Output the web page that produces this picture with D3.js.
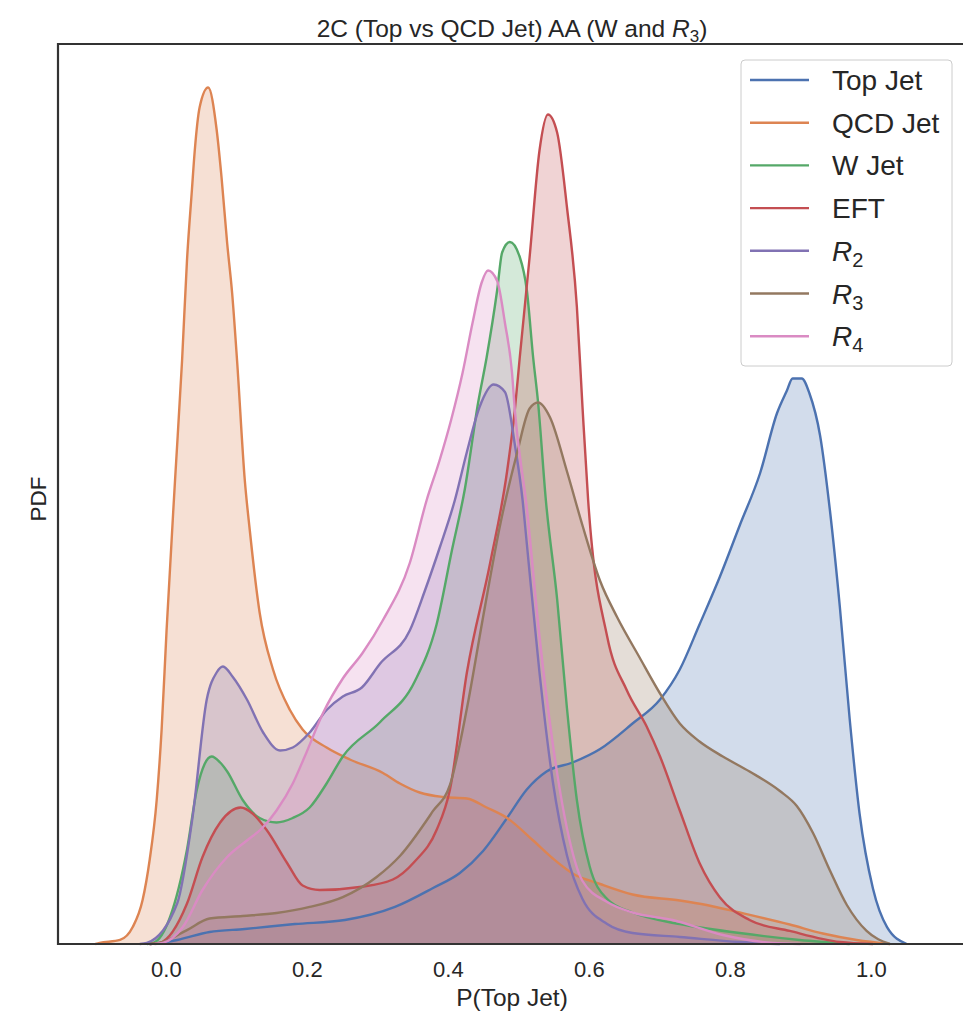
<!DOCTYPE html>
<html lang="en">
<head>
    <meta charset="UTF-8"/>
    <title>2C (Top vs QCD Jet) AA</title>
    <script src="https://d3js.org/d3.v7.min.js"></script>
    <style type="text/css">
        body { margin: 0; background: #fff; }
        text { font-family: "Liberation Sans", Arial, sans-serif; fill: #262626; }
        .spine { stroke: #333; stroke-width: 2.2px; fill: none; }
    </style>
</head>
<body>
<svg width="963" height="1017"></svg>

<script type="text/javascript">
    // series names, colours (seaborn "deep")
    var names = ["Top Jet", "QCD Jet", "W Jet", "EFT", "R2", "R3", "R4"];
    var colors = ["#4c72b0", "#dd8452", "#55a868", "#c44e52", "#8172b3", "#937860", "#da8bc3"];
    var xTicks = [0.0, 0.2, 0.4, 0.6, 0.8, 1.0];

    // KDE curves: x = P(Top Jet), y = density
    var topX = [-0.023, -0.009, 0.016, 0.062, 0.112, 0.183, 0.254, 0.325, 0.379, 0.417, 0.450, 0.484, 0.512, 0.540, 0.577, 0.616, 0.662, 0.701, 0.729, 0.757, 0.786, 0.814, 0.843, 0.867, 0.881, 0.889, 0.902, 0.913, 0.928, 0.942, 0.956, 0.970, 0.984, 1.003, 1.023, 1.051];
    var topY = [0, 0.007, 0.027, 0.08, 0.10, 0.133, 0.16, 0.247, 0.373, 0.473, 0.62, 0.84, 1.03, 1.15, 1.21, 1.30, 1.47, 1.63, 1.83, 2.13, 2.45, 2.79, 3.14, 3.54, 3.69, 3.77, 3.77, 3.67, 3.39, 2.89, 2.25, 1.50, 0.87, 0.37, 0.113, 0];

    var qcdX = [-0.100, -0.094, -0.065, -0.047, -0.033, -0.023, -0.013, -0.006, 0.001, 0.013, 0.023, 0.030, 0.037, 0.041, 0.048, 0.060, 0.072, 0.079, 0.087, 0.094, 0.101, 0.112, 0.119, 0.133, 0.152, 0.176, 0.194, 0.228, 0.261, 0.308, 0.332, 0.360, 0.393, 0.427, 0.455, 0.484, 0.521, 0.549, 0.577, 0.616, 0.662, 0.729, 0.767, 0.814, 0.885, 0.932, 0.980, 1.027];
    var qcdY = [0, 0.007, 0.027, 0.113, 0.293, 0.56, 0.96, 1.43, 2.09, 3.09, 3.89, 4.56, 5.03, 5.29, 5.58, 5.71, 5.43, 5.11, 4.67, 4.34, 3.89, 3.09, 2.76, 2.21, 1.83, 1.56, 1.43, 1.31, 1.23, 1.14, 1.07, 1.01, 0.98, 0.97, 0.91, 0.84, 0.69, 0.57, 0.47, 0.40, 0.33, 0.29, 0.26, 0.21, 0.13, 0.07, 0.027, 0];

    var wX = [-0.027, -0.018, 0.006, 0.030, 0.044, 0.055, 0.065, 0.077, 0.087, 0.109, 0.133, 0.157, 0.180, 0.204, 0.228, 0.251, 0.304, 0.353, 0.384, 0.406, 0.424, 0.443, 0.455, 0.470, 0.477, 0.488, 0.502, 0.512, 0.521, 0.528, 0.539, 0.555, 0.569, 0.583, 0.601, 0.626, 0.662, 0.729, 0.814, 0.899, 0.970];
    var wY = [0, 0.007, 0.18, 0.63, 1.03, 1.20, 1.25, 1.21, 1.15, 0.96, 0.84, 0.81, 0.84, 0.91, 1.07, 1.25, 1.48, 1.75, 2.13, 2.63, 3.03, 3.61, 3.91, 4.36, 4.61, 4.68, 4.58, 4.36, 3.91, 3.61, 2.96, 2.30, 1.57, 0.96, 0.52, 0.30, 0.21, 0.133, 0.073, 0.027, 0];

    var eftX = [-0.023, -0.009, 0.030, 0.052, 0.077, 0.106, 0.123, 0.143, 0.172, 0.194, 0.218, 0.275, 0.322, 0.353, 0.384, 0.403, 0.427, 0.460, 0.484, 0.495, 0.502, 0.516, 0.530, 0.542, 0.555, 0.569, 0.583, 0.591, 0.599, 0.626, 0.654, 0.682, 0.701, 0.729, 0.757, 0.786, 0.828, 0.885, 0.956, 1.003];
    var eftY = [0, 0.007, 0.27, 0.58, 0.81, 0.91, 0.87, 0.76, 0.54, 0.39, 0.36, 0.38, 0.43, 0.55, 0.76, 1.03, 1.81, 2.54, 3.15, 3.56, 3.91, 4.58, 5.29, 5.53, 5.41, 4.91, 4.25, 3.58, 2.96, 2.05, 1.69, 1.45, 1.25, 0.89, 0.54, 0.31, 0.16, 0.087, 0.013, 0];

    var r2X = [-0.037, -0.027, 0.016, 0.038, 0.058, 0.072, 0.081, 0.095, 0.115, 0.138, 0.162, 0.180, 0.204, 0.228, 0.251, 0.278, 0.304, 0.346, 0.367, 0.389, 0.410, 0.427, 0.445, 0.465, 0.481, 0.495, 0.506, 0.512, 0.530, 0.549, 0.569, 0.591, 0.626, 0.662, 0.729, 0.814, 0.871];
    var r2Y = [0, 0.007, 0.27, 0.85, 1.63, 1.81, 1.85, 1.78, 1.63, 1.41, 1.29, 1.31, 1.41, 1.56, 1.65, 1.71, 1.87, 2.09, 2.35, 2.65, 2.96, 3.28, 3.58, 3.73, 3.68, 3.33, 2.96, 2.67, 1.81, 1.08, 0.59, 0.30, 0.133, 0.073, 0.047, 0.013, 0];

    var r3X = [-0.023, -0.009, 0.030, 0.062, 0.109, 0.157, 0.204, 0.251, 0.299, 0.332, 0.379, 0.403, 0.427, 0.450, 0.474, 0.498, 0.516, 0.528, 0.545, 0.569, 0.591, 0.616, 0.640, 0.672, 0.701, 0.729, 0.757, 0.790, 0.828, 0.871, 0.895, 0.918, 0.942, 0.966, 0.994, 1.027];
    var r3Y = [0, 0.007, 0.093, 0.17, 0.187, 0.207, 0.247, 0.313, 0.447, 0.587, 0.887, 1.06, 1.57, 2.18, 2.79, 3.27, 3.57, 3.61, 3.51, 3.15, 2.79, 2.42, 2.18, 1.91, 1.67, 1.47, 1.35, 1.25, 1.15, 1.02, 0.92, 0.74, 0.49, 0.26, 0.087, 0];

    var r4X = [-0.016, -0.004, 0.024, 0.052, 0.087, 0.115, 0.136, 0.157, 0.180, 0.197, 0.223, 0.251, 0.279, 0.308, 0.346, 0.370, 0.388, 0.405, 0.421, 0.435, 0.448, 0.457, 0.470, 0.481, 0.491, 0.495, 0.512, 0.530, 0.549, 0.569, 0.591, 0.626, 0.662, 0.719, 0.790, 0.861, 0.900];
    var r4Y = [0, 0.007, 0.113, 0.36, 0.58, 0.69, 0.77, 0.89, 1.07, 1.25, 1.54, 1.77, 1.94, 2.16, 2.54, 2.96, 3.22, 3.50, 3.81, 4.14, 4.41, 4.49, 4.42, 4.14, 3.81, 3.56, 2.91, 2.05, 1.33, 0.77, 0.42, 0.28, 0.21, 0.16, 0.06, 0.007, 0];

    var seriesX = [topX, qcdX, wX, eftX, r2X, r3X, r4X];
    var seriesY = [topY, qcdY, wY, eftY, r2Y, r3Y, r4Y];

    var svg = d3.select("svg");
    // note: "top" is taken by window.top, so keep the box in an object
    var box = {left: 58, right: 966, top: 44, bottom: 944};

    var x = d3.scaleLinear().domain([-0.153, 1.135]).range([box.left, box.right]);
    var y = d3.scaleLinear().domain([0, 6]).range([box.bottom, box.top]);

    var area = d3.area()
        .x(function(d) { return x(d[0]); })
        .y0(y(0))
        .y1(function(d) { return y(d[1]); })
        .curve(d3.curveMonotoneX);

    var line = d3.line()
        .x(function(d) { return x(d[0]); })
        .y(function(d) { return y(d[1]); })
        .curve(d3.curveMonotoneX);

    var fills = svg.append("g");
    var lines = svg.append("g");

    names.forEach(function(name, i) {
        var pts = d3.zip(seriesX[i], seriesY[i]);
        fills.append("path")
            .attr("d", area(pts))
            .attr("fill", colors[i])
            .attr("fill-opacity", 0.25);
        lines.append("path")
            .attr("d", line(pts))
            .attr("fill", "none")
            .attr("stroke", colors[i])
            .attr("stroke-width", 2.4);
    });

    // spines (seaborn white style, right spine falls outside the view)
    svg.append("path")
        .attr("class", "spine")
        .attr("d", "M" + box.right + "," + box.top + "H" + box.left + "V" + box.bottom + "H" + box.right);

    // x axis, labels only
    var xAxis = svg.append("g")
        .attr("transform", "translate(0," + box.bottom + ")")
        .call(d3.axisBottom(x).tickValues(xTicks).tickFormat(d3.format(".1f")).tickSize(0).tickPadding(17));
    xAxis.select(".domain").remove();
    xAxis.selectAll("text")
        .style("font-size", "22px")
        .style("fill", "#262626")
        .style("font-family", "'Liberation Sans', Arial, sans-serif");

    svg.append("text")
        .attr("x", (box.left + box.right) / 2)
        .attr("y", 1006)
        .attr("text-anchor", "middle")
        .style("font-size", "24.5px")
        .text("P(Top Jet)");

    svg.append("text")
        .attr("transform", "translate(46,499) rotate(-90)")
        .attr("text-anchor", "middle")
        .style("font-size", "22.5px")
        .text("PDF");

    // title with italic R and subscript 3
    var title = svg.append("text")
        .attr("x", (box.left + box.right) / 2)
        .attr("y", 37)
        .attr("text-anchor", "middle")
        .style("font-size", "24.5px");
    title.append("tspan").text("2C (Top vs QCD Jet) AA (W and ");
    title.append("tspan").style("font-style", "italic").text("R");
    title.append("tspan").attr("dy", 5).style("font-size", "17px").text("3");
    title.append("tspan").attr("dy", -5).text(")");

    // legend
    var legend = svg.append("g");
    legend.append("rect")
        .attr("x", 741).attr("y", 60)
        .attr("width", 211).attr("height", 306)
        .attr("rx", 4)
        .attr("fill", "#fff").attr("fill-opacity", 0.8)
        .attr("stroke", "#cccccc").attr("stroke-width", 1);

    names.forEach(function(name, i) {
        var ry = 80 + i * 42.7;
        legend.append("line")
            .attr("x1", 750).attr("x2", 809)
            .attr("y1", ry).attr("y2", ry)
            .attr("stroke", colors[i]).attr("stroke-width", 2.4);
        var t = legend.append("text")
            .attr("x", 832).attr("y", ry + 10)
            .style("font-size", "28px");
        if (name.charAt(0) === "R") {
            t.append("tspan").style("font-style", "italic").text("R");
            t.append("tspan").attr("dy", 6).style("font-size", "20px").text(name.charAt(1));
        } else {
            t.text(name);
        }
    });
</script>
</body>
</html>
